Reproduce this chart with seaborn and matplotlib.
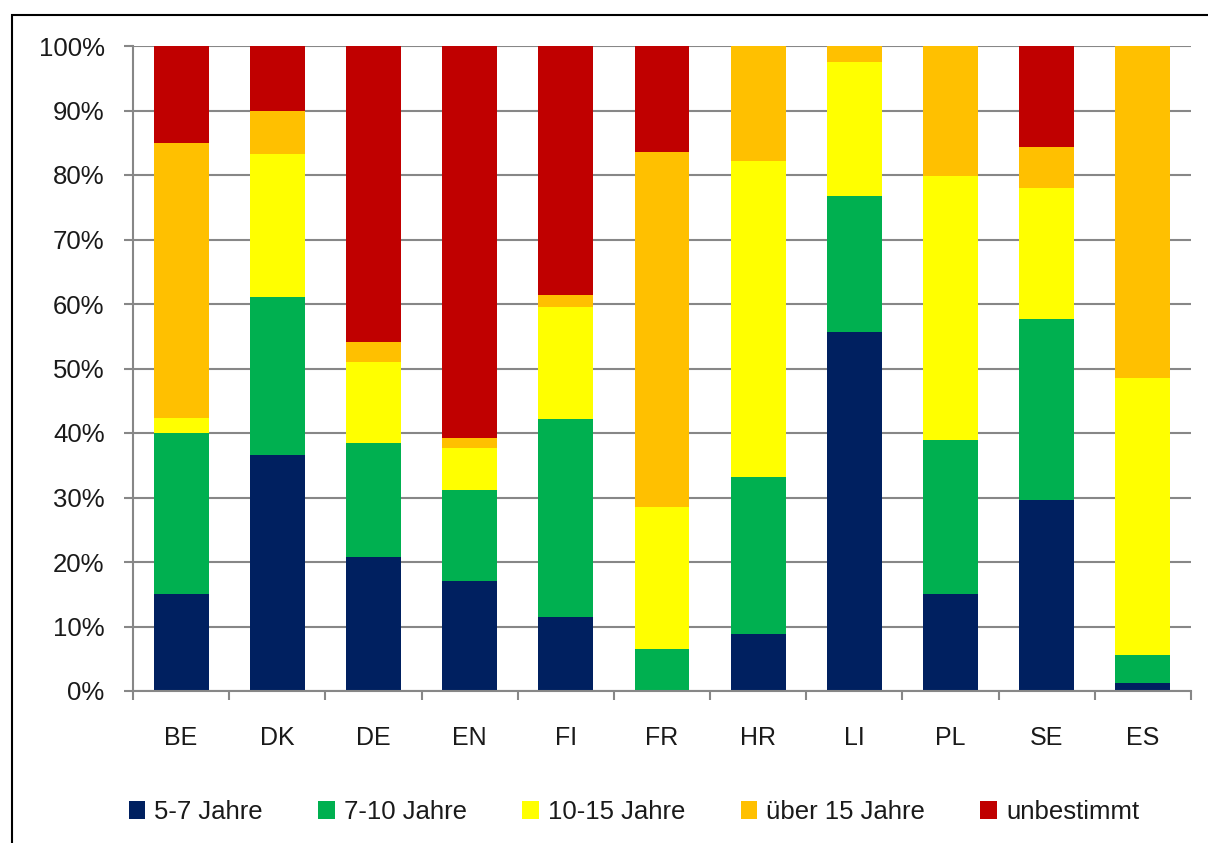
import numpy as np
import pandas as pd
import matplotlib.pyplot as plt
import seaborn as sns
from matplotlib.patches import Rectangle, Patch
from matplotlib.ticker import PercentFormatter, FixedLocator

countries = ['BE', 'DK', 'DE', 'EN', 'FI', 'FR', 'HR', 'LI', 'PL', 'SE', 'ES']
series = ['5-7 Jahre', '7-10 Jahre', '10-15 Jahre', 'über 15 Jahre', 'unbestimmt']

j5_7 = [15.0, 36.6, 20.8, 17.1, 11.4, 0.0, 8.8, 55.6, 15.1, 29.6, 1.3]
j7_10 = [25.0, 24.5, 17.6, 14.0, 30.8, 6.5, 24.4, 21.2, 23.8, 28.1, 4.3]
j10_15 = [2.4, 22.2, 12.6, 6.6, 17.4, 22.1, 49.0, 20.7, 41.0, 20.3, 43.0]
j15_plus = [42.6, 6.7, 3.1, 1.6, 1.8, 54.9, 17.8, 2.5, 20.1, 6.3, 51.4]
unbestimmt = [15.0, 10.0, 45.9, 60.7, 38.6, 16.5, 0.0, 0.0, 0.0, 15.7, 0.0]

colors = ['#002060', '#00B050', '#FFFF00', '#FFC000', '#C00000']

df = pd.DataFrame({'land': countries, series[0]: j5_7, series[1]: j7_10,
                   series[2]: j10_15, series[3]: j15_plus, series[4]: unbestimmt})
# cumulative sums for stacking, normalised to 100%
vals = df[series]
cum = vals.cumsum(axis=1).div(vals.sum(axis=1), axis=0) * 100

sns.set_style('white')
plt.rcParams['font.family'] = ['Liberation Sans', 'DejaVu Sans']

fig = plt.figure(figsize=(12.08, 8.43), dpi=100)
ax = fig.add_axes([133 / 1208, 1 - 691 / 843, 1058 / 1208, 645 / 843])

grid_c = '#878787'
ax.set_axisbelow(True)
ax.yaxis.grid(True, color=grid_c, linewidth=1.5)

# draw from top of stack down so lower segments overlay
for s, c in reversed(list(zip(series, colors))):
    sns.barplot(x=df['land'], y=cum[s], color=c, width=0.57, ax=ax,
                saturation=1, linewidth=0, order=countries)

ax.set_xlim(-0.5, len(countries) - 0.5)
ax.set_ylim(0, 100)
ax.set_yticks(np.arange(0, 101, 10))
ax.yaxis.set_major_formatter(PercentFormatter(decimals=0))
ax.set_xlabel('')
ax.set_ylabel('')

for side in ['top', 'right']:
    ax.spines[side].set_visible(False)
for side in ['left', 'bottom']:
    ax.spines[side].set_color(grid_c)
    ax.spines[side].set_linewidth(1.5)

ax.tick_params(axis='y', direction='out', length=6.5, width=1.5, color=grid_c,
               pad=14, labelsize=18.5, left=True, labelcolor='#1a1a1a')
ax.tick_params(axis='x', which='major', length=0, pad=25, labelsize=18, labelcolor='#1a1a1a')
ax.xaxis.set_minor_locator(FixedLocator(np.arange(-0.5, len(countries), 1)))
ax.tick_params(axis='x', which='minor', direction='out', length=6.5, width=1.5,
               color=grid_c, bottom=True)

handles = [Patch(facecolor=c, edgecolor='none') for c in colors]
fig.legend(handles, series, loc='center', bbox_to_anchor=(634 / 1208, 1 - 812 / 843),
           ncol=5, frameon=False, fontsize=18.5, handlelength=0.65, handleheight=0.65,
           handletextpad=0.35, columnspacing=2.15, labelcolor='#1a1a1a')

fig.patches.append(Rectangle((12 / 1208, -0.01), 1.0, 1.01 - 15 / 843,
                             transform=fig.transFigure, fill=False,
                             edgecolor='black', linewidth=1.5))

fig.savefig('out.png', dpi=100)
